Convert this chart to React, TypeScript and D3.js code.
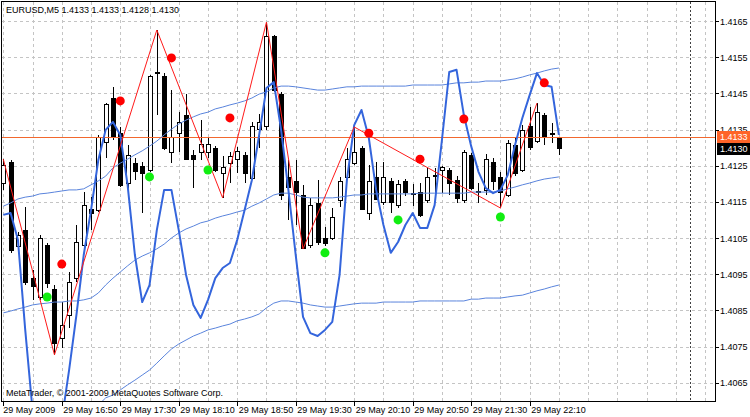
import React from 'react';
import * as d3 from 'd3';

const headerText = 'EURUSD,M5  1.4133 1.4133 1.4128 1.4130';
const copyrightText = 'MetaTrader, © 2001-2009 MetaQuotes Software Corp.';
const timeLabels = ['29 May 2009', '29 May 16:50', '29 May 17:30', '29 May 18:10', '29 May 18:50', '29 May 19:30', '29 May 20:10', '29 May 20:50', '29 May 21:30', '29 May 22:10'];
const priceTicks = [1.4065, 1.4075, 1.4085, 1.4095, 1.4105, 1.4115, 1.4125, 1.4135, 1.4145, 1.4155, 1.4165];
const bidPrice = 1.4133;
const lastPrice = 1.4130;

const opens = [
  1.41202, 1.41260, 1.41028, 1.41072, 1.40939, 1.40887, 1.41031, 1.40909, 1.40774, 1.40837,
  1.40939, 1.41031, 1.41130, 1.41127, 1.41315, 1.41437, 1.41340, 1.41202, 1.41257, 1.41249,
  1.41238, 1.41509, 1.41498, 1.41288, 1.41340, 1.41390, 1.41280, 1.41288, 1.41288, 1.41299,
  1.41230, 1.41257, 1.41268, 1.41280, 1.41216, 1.41351, 1.41360, 1.41609, 1.41448, 1.41219,
  1.41208, 1.41169, 1.41031, 1.41147, 1.41050, 1.41050, 1.41155, 1.41219, 1.41257, 1.41299,
  1.41119, 1.41219, 1.41150, 1.41208, 1.41141, 1.41208, 1.41174, 1.41177, 1.41155, 1.41224,
  1.41238, 1.41238, 1.41210, 1.41155, 1.41280, 1.41180, 1.41183, 1.41260, 1.41219, 1.41169,
  1.41307, 1.41238, 1.41360, 1.41318, 1.41390, 1.41340, 1.41330];
const highs = [
  1.41268, 1.41266, 1.41067, 1.41136, 1.40962, 1.41058, 1.41036, 1.40920, 1.40873, 1.40956,
  1.41086, 1.41177, 1.41163, 1.41335, 1.41423, 1.41468, 1.41357, 1.41307, 1.41271, 1.41260,
  1.41501, 1.41625, 1.41506, 1.41459, 1.41398, 1.41448, 1.41293, 1.41376, 1.41327, 1.41304,
  1.41277, 1.41288, 1.41302, 1.41288, 1.41371, 1.41393, 1.41647, 1.41611, 1.41454, 1.41266,
  1.41266, 1.41197, 1.41161, 1.41210, 1.41080, 1.41133, 1.41219, 1.41299, 1.41357, 1.41304,
  1.41252, 1.41260, 1.41260, 1.41216, 1.41210, 1.41213, 1.41199, 1.41202, 1.41244, 1.41244,
  1.41249, 1.41244, 1.41221, 1.41293, 1.41285, 1.41202, 1.41282, 1.41271, 1.41232, 1.41321,
  1.41327, 1.41362, 1.41412, 1.41423, 1.41396, 1.41368, 1.41330];
const lows = [
  1.41183, 1.41009, 1.41022, 1.40920, 1.40879, 1.40879, 1.40912, 1.40727, 1.40746, 1.40801,
  1.40928, 1.41017, 1.41072, 1.41122, 1.41271, 1.41321, 1.41191, 1.41188, 1.41210, 1.41119,
  1.41232, 1.41390, 1.41293, 1.41257, 1.41288, 1.41266, 1.41188, 1.41266, 1.41271, 1.41232,
  1.41161, 1.41202, 1.41230, 1.41202, 1.41210, 1.41299, 1.41349, 1.41454, 1.41155, 1.41100,
  1.41086, 1.41020, 1.41022, 1.41031, 1.41028, 1.41045, 1.41136, 1.41210, 1.41252, 1.41127,
  1.41100, 1.41155, 1.41141, 1.41119, 1.41133, 1.41166, 1.41138, 1.41108, 1.41147, 1.41174,
  1.41174, 1.41169, 1.41147, 1.41147, 1.41183, 1.41147, 1.41169, 1.41183, 1.41133, 1.41163,
  1.41221, 1.41232, 1.41293, 1.41313, 1.41307, 1.41313, 1.41280];
const closes = [
  1.41252, 1.41017, 1.41058, 1.40928, 1.40917, 1.41050, 1.40926, 1.40760, 1.40809, 1.40928,
  1.41039, 1.41141, 1.41119, 1.41329, 1.41420, 1.41329, 1.41197, 1.41280, 1.41235, 1.41230,
  1.41498, 1.41506, 1.41299, 1.41329, 1.41371, 1.41268, 1.41268, 1.41310, 1.41310, 1.41238,
  1.41246, 1.41277, 1.41291, 1.41230, 1.41360, 1.41371, 1.41609, 1.41459, 1.41169, 1.41191,
  1.41177, 1.41022, 1.41141, 1.41039, 1.41036, 1.41108, 1.41208, 1.41268, 1.41288, 1.41130,
  1.41208, 1.41158, 1.41219, 1.41150, 1.41199, 1.41177, 1.41172, 1.41114, 1.41219, 1.41221,
  1.41246, 1.41202, 1.41161, 1.41288, 1.41188, 1.41177, 1.41268, 1.41208, 1.41177, 1.41313,
  1.41230, 1.41349, 1.41302, 1.41398, 1.41329, 1.41338, 1.41300];

const bandUpper = [
  1.41138, 1.41147, 1.41158, 1.41163, 1.41166, 1.41172, 1.41174, 1.41177, 1.41180, 1.41183,
  1.41183, 1.41186, 1.41197, 1.41208, 1.41221, 1.41244, 1.41257, 1.41268, 1.41280, 1.41291,
  1.41304, 1.41318, 1.41335, 1.41351, 1.41365, 1.41376, 1.41385, 1.41393, 1.41398, 1.41407,
  1.41412, 1.41418, 1.41423, 1.41429, 1.41437, 1.41448, 1.41454, 1.41465, 1.41470, 1.41470,
  1.41468, 1.41465, 1.41462, 1.41459, 1.41459, 1.41462, 1.41465, 1.41468, 1.41468, 1.41470,
  1.41470, 1.41470, 1.41470, 1.41470, 1.41470, 1.41470, 1.41473, 1.41473, 1.41473, 1.41473,
  1.41473, 1.41476, 1.41479, 1.41479, 1.41481, 1.41481, 1.41484, 1.41484, 1.41484, 1.41487,
  1.41490, 1.41495, 1.41501, 1.41506, 1.41512, 1.41517, 1.41520];
const bandMiddle = [
  1.40843, 1.40848, 1.40854, 1.40859, 1.40865, 1.40868, 1.40870, 1.40873, 1.40873, 1.40876,
  1.40876, 1.40879, 1.40884, 1.40898, 1.40920, 1.40939, 1.40956, 1.40973, 1.40989, 1.41000,
  1.41009, 1.41020, 1.41033, 1.41050, 1.41064, 1.41075, 1.41083, 1.41092, 1.41097, 1.41105,
  1.41111, 1.41116, 1.41122, 1.41127, 1.41138, 1.41147, 1.41158, 1.41169, 1.41174, 1.41174,
  1.41169, 1.41163, 1.41161, 1.41161, 1.41161, 1.41161, 1.41163, 1.41166, 1.41169, 1.41169,
  1.41172, 1.41172, 1.41172, 1.41172, 1.41172, 1.41172, 1.41172, 1.41174, 1.41174, 1.41174,
  1.41174, 1.41174, 1.41174, 1.41174, 1.41177, 1.41177, 1.41177, 1.41177, 1.41180, 1.41186,
  1.41191, 1.41197, 1.41202, 1.41208, 1.41213, 1.41216, 1.41219];
const bandLower = [
  1.40547, 1.40550, 1.40550, 1.40555, 1.40563, 1.40563, 1.40566, 1.40569, 1.40566, 1.40569,
  1.40569, 1.40572, 1.40572, 1.40588, 1.40608, 1.40616, 1.40630, 1.40644, 1.40657, 1.40671,
  1.40685, 1.40704, 1.40724, 1.40743, 1.40757, 1.40768, 1.40779, 1.40787, 1.40796, 1.40801,
  1.40807, 1.40812, 1.40821, 1.40826, 1.40832, 1.40840, 1.40857, 1.40870, 1.40876, 1.40876,
  1.40873, 1.40870, 1.40865, 1.40862, 1.40859, 1.40859, 1.40862, 1.40865, 1.40868, 1.40870,
  1.40870, 1.40870, 1.40873, 1.40873, 1.40873, 1.40873, 1.40873, 1.40876, 1.40876, 1.40876,
  1.40876, 1.40876, 1.40876, 1.40876, 1.40881, 1.40881, 1.40884, 1.40884, 1.40884, 1.40887,
  1.40890, 1.40892, 1.40898, 1.40904, 1.40909, 1.40915, 1.40920];

const oscLine = [
  1.41114, 1.41119, 1.41045, 1.40796, 1.40574, 1.40492, 1.40464, 1.40464, 1.40547, 1.40685,
  1.40837, 1.41003, 1.41127, 1.41266, 1.41349, 1.41371, 1.41335, 1.41197, 1.41003, 1.40873,
  1.40920, 1.41072, 1.41183, 1.41183, 1.41072, 1.40948, 1.40865, 1.40829, 1.40879, 1.40939,
  1.40967, 1.40981, 1.41045, 1.41127, 1.41210, 1.41335, 1.41465, 1.41481, 1.41349, 1.41183,
  1.41003, 1.40832, 1.40787, 1.40779, 1.40796, 1.40818, 1.40948, 1.41210, 1.41362, 1.41404,
  1.41327, 1.41183, 1.41086, 1.41009, 1.41039, 1.41086, 1.41119, 1.41078, 1.41078, 1.41141,
  1.41321, 1.41509, 1.41515, 1.41390, 1.41304, 1.41233, 1.41188, 1.41174, 1.41183, 1.41224,
  1.41307, 1.41382, 1.41445, 1.41506, 1.41473, 1.41468, 1.41335];

const zigzagIdx = [0, 7, 21, 30, 36, 41, 48, 68, 73];
const zigzagKind = ['H', 'L', 'H', 'L', 'H', 'L', 'H', 'L', 'H'];

const redDotIdx = [8, 16, 23, 31, 50, 57, 63, 74];
const redDotVal = [1.40978, 1.41429, 1.41548, 1.41382, 1.41340, 1.41268, 1.41379, 1.41479];
const greenDotIdx = [6, 20, 28, 44, 54, 68];
const greenDotVal = [1.40887, 1.41219, 1.41238, 1.41009, 1.41100, 1.41108];

const FONT = '"Liberation Sans", Arial, sans-serif';

export default function App() {
  const W = 750;
  const H = 417;
  const pl = 1.5, pt = 1.5, pr = 715.5, pb = 401.5;
  const x = d3.scaleLinear().domain([0, 96]).range([3.3, 705.1]);
  const y = d3.scaleLinear().domain([1.4065, 1.4165]).range([382.7, 21]);
  const n = opens.length;
  const idx = d3.range(n);
  const crisp = (v: number) => Math.round(v) + 0.5;

  const lineGen = d3.line<number>().x((_, i) => x(i)).y((d) => y(d));
  const zzPts: [number, number][] = zigzagIdx.map((i, k) => [x(i), y(zigzagKind[k] === 'H' ? highs[i] : lows[i])]);
  const zzPath = d3.line()(zzPts) || '';

  const vGrid = d3.range(0, 97, 4).filter((i) => x(i) < pr - 2);
  const timeIdx = timeLabels.map((_, k) => k * 8);

  return (
    <svg width={W} height={H} style={{ position: 'absolute', left: 0, top: 0, background: '#fff' }} fontFamily={FONT}>
      <defs>
        <clipPath id="plotClip">
          <rect x={pl} y={pt} width={pr - pl} height={pb - pt} />
        </clipPath>
      </defs>
      <rect x={0} y={0} width={W} height={H} fill="#ffffff" />
      {/* grid */}
      <g stroke="#c4c4c4" strokeWidth={1} strokeDasharray="3,3" shapeRendering="crispEdges">
        {priceTicks.map((p) => (
          <line key={'h' + p} x1={pl} x2={pr} y1={crisp(y(p))} y2={crisp(y(p))} />
        ))}
        {vGrid.map((i) => (
          <line key={'v' + i} x1={crisp(x(i))} x2={crisp(x(i))} y1={pt} y2={pb} />
        ))}
      </g>
      <line x1={crisp(x(94))} x2={crisp(x(94))} y1={pt} y2={pb} stroke="#404040" strokeDasharray="2,2" shapeRendering="crispEdges" />

      <g clipPath="url(#plotClip)">
        {/* candles */}
        <g shapeRendering="crispEdges">
          {idx.map((i) => {
            const cx = crisp(x(i));
            const o = opens[i], c = closes[i];
            const yTop = Math.round(y(Math.max(o, c)));
            const yBot = Math.round(y(Math.min(o, c)));
            const bull = c > o;
            const doji = yBot - yTop < 1;
            return (
              <g key={'c' + i}>
                <line x1={cx} x2={cx} y1={y(highs[i])} y2={y(lows[i])} stroke="#000" strokeWidth={1} />
                {doji ? (
                  <line x1={cx - 3} x2={cx + 3} y1={yTop + 0.5} y2={yTop + 0.5} stroke="#000" strokeWidth={1} />
                ) : (
                  <rect x={cx - 2} y={yTop + 0.5} width={4} height={yBot - yTop} fill={bull ? '#ffffff' : '#000000'} stroke="#000" strokeWidth={1} />
                )}
              </g>
            );
          })}
        </g>
        {/* bid line */}
        <line x1={pl} x2={pr} y1={crisp(y(bidPrice))} y2={crisp(y(bidPrice))} stroke="#f2682e" strokeWidth={1} shapeRendering="crispEdges" />
        {/* bands */}
        <g fill="none" stroke="#5a84dc" strokeWidth={1}>
          <path d={lineGen(bandUpper) || ''} />
          <path d={lineGen(bandMiddle) || ''} />
          <path d={lineGen(bandLower) || ''} />
        </g>
        {/* oscillating line */}
        <path d={lineGen(oscLine) || ''} fill="none" stroke="#3465dc" strokeWidth={2} strokeLinejoin="round" />
        {/* zigzag */}
        <path d={zzPath} fill="none" stroke="#ff1a1a" strokeWidth={1} />
        {/* dots */}
        {redDotIdx.map((i, k) => (
          <circle key={'r' + i} cx={x(i)} cy={y(redDotVal[k])} r={4.5} fill="#ff0000" />
        ))}
        {greenDotIdx.map((i, k) => (
          <circle key={'g' + i} cx={x(i)} cy={y(greenDotVal[k])} r={4.5} fill="#11ee11" />
        ))}
      </g>

      {/* frame */}
      <rect x={pl} y={pt} width={pr - pl} height={pb - pt} fill="none" stroke="#000" strokeWidth={1} shapeRendering="crispEdges" />

      {/* price axis */}
      <g fontSize={9} fill="#000">
        {priceTicks.map((p) => (
          <g key={'pt' + p}>
            <line x1={pr} x2={pr + 3} y1={crisp(y(p))} y2={crisp(y(p))} stroke="#000" shapeRendering="crispEdges" />
            <text x={720} y={y(p) + 3.5}>{p.toFixed(4)}</text>
          </g>
        ))}
      </g>
      <rect x={717} y={Math.round(y(bidPrice)) - 6} width={33} height={12} fill="#ff6428" />
      <text x={720} y={y(bidPrice) + 3.5} fontSize={9} fill="#ffffff">{bidPrice.toFixed(4)}</text>
      <rect x={717} y={Math.round(y(lastPrice)) - 5} width={33} height={12} fill="#000000" />
      <text x={720} y={y(lastPrice) + 4} fontSize={9} fill="#ffffff">{lastPrice.toFixed(4)}</text>

      {/* time axis */}
      <g fontSize={9} fill="#000">
        {timeIdx.map((i, k) => (
          <g key={'t' + i}>
            <line x1={crisp(x(i))} x2={crisp(x(i))} y1={pb} y2={pb + 4} stroke="#000" shapeRendering="crispEdges" />
            <text x={x(i) + (k === 0 ? 0 : 1.5)} y={413}>{timeLabels[k]}</text>
          </g>
        ))}
      </g>

      <text x={6} y={13} fontSize={9} fill="#000">{headerText}</text>
      <text x={6} y={396} fontSize={9} fill="#000">{copyrightText}</text>
    </svg>
  );
}
